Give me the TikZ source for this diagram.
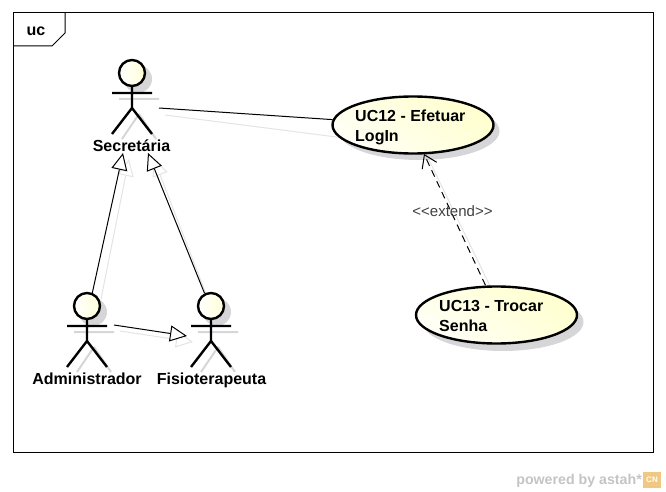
\documentclass[tikz,border=0pt]{standalone}
\usepackage{fontspec}
\setmainfont{Liberation Sans}
\usetikzlibrary{arrows.meta,shapes.geometric,shadings}

\definecolor{shadowgray}{RGB}{214,214,216}
\definecolor{linkshadow}{RGB}{228,228,228}
\definecolor{ucyellow}{RGB}{255,255,200}
\definecolor{markgray}{RGB}{196,196,196}
\definecolor{markorange}{RGB}{240,200,130}

\tikzset{
    actorfig/.pic = {
        \draw[shadowgray, line width=2pt] (7,0) -- (7,20) (-13,26) -- (27,26) (7,41) -- (-10,66) (7,41) -- (24,66);
        \fill[shadowgray] (6,6) circle (14);
        \draw[line width=2.4pt] (0,13) -- (0,35) (-20,20) -- (20,20) (0,35) -- (-20,61) (0,35) -- (20,61);
        \node[shape=circle, draw, line width=2.4pt, minimum size=26pt, inner sep=0pt, left color=white, right color=ucyellow!70] (-head) at (0,0) {};
    },
    actorlabel/.style = {font=\fontsize{16}{18}\selectfont\bfseries, inner sep=0pt, anchor=base},
    usecase/.style = {shape=ellipse, draw, line width=2.4pt, minimum width=161pt, minimum height=57pt, inner sep=0pt, lower left=white, upper right=ucyellow, lower right=ucyellow!70, upper left=ucyellow!40},
    usetext/.style = {inner sep=0pt, anchor=west, align=left, font=\fontsize{16}{20}\selectfont\bfseries},
    useshadow/.style = {shape=ellipse, fill=shadowgray, minimum width=161pt, minimum height=58pt, inner sep=0pt},
    genlink/.style = {line width=1pt, -{Triangle[open, length=17pt, width=16pt, fill=white]}},
    genshadow/.style = {line width=1pt, linkshadow, -{Triangle[open, length=17pt, width=16pt, fill=white]}},
}

\begin{document}
\begin{tikzpicture}[x=1pt, y=-1pt]
    \useasboundingbox (0, 0) rectangle (666, 492);

    \node[draw, line width=1pt, minimum width=640pt, minimum height=439pt, inner sep=0pt] (frame) at (333, 232.5) {};
    \coordinate (tabtop) at (65, 13);
    \coordinate (tabright) at (65, 33);
    \coordinate (tabcut) at (52, 46);
    \coordinate (tableft) at (13, 46);
    \draw[line width=1pt] (tabtop) -- (tabright) -- (tabcut) -- (tableft);
    \node[font=\fontsize{16}{18}\selectfont\bfseries, inner sep=0pt] (uc) at (36, 31) {uc};

    \coordinate (secarm) at (159, 108);
    \coordinate (sectipa) at (123, 153);
    \coordinate (sectipb) at (148, 153);
    \coordinate (admarm) at (114, 325);
    \coordinate (fistip) at (187, 336);

    \node[useshadow] (uc12shadow) at (419, 131) {};
    \node[useshadow] (uc13shadow) at (503, 322) {};

    \draw[linkshadow, line width=1pt] ([shift={(6,7)}]secarm) -- ([shift={(6,7)}]uc12shadow.west);
    \draw[genshadow] ([shift={(6,6)}]95, 293) -- ([shift={(6,6)}]sectipa);
    \draw[genshadow] ([shift={(6,6)}]202, 293) -- ([shift={(6,6)}]sectipb);
    \draw[genshadow] ([shift={(6,6)}]admarm) -- ([shift={(6,6)}]fistip);
    \draw[linkshadow, line width=1pt] (490, 286) -- (429, 160);

    \pic (sec) at (132, 73) {actorfig};
    \pic (adm) at (87, 306) {actorfig};
    \pic (fis) at (211, 306) {actorfig};

    \node[actorlabel] (seclabel) at (131.5, 151) {Secretária};
    \node[actorlabel] (admlabel) at (87, 384) {Administrador};
    \node[actorlabel] (fislabel) at (211.5, 384) {Fisioterapeuta};

    \node[usecase] (uc12) at (413, 125) {};
    \node[usecase] (uc13) at (496.5, 315) {};
    \node[usetext] (uc12text) at (355, 127) {UC12 - Efetuar\\LogIn};
    \node[usetext] (uc13text) at (439, 316) {UC13 - Trocar\\Senha};

    \draw[line width=1pt] (secarm) -- (uc12);
    \draw[genlink] (adm-head.68) -- (sectipa);
    \draw[genlink] (fis-head.117) -- (sectipb);
    \draw[genlink] (admarm) -- (fistip);
    \draw[line width=1pt, dashed, dash pattern=on 7pt off 5pt, -{Straight Barb[length=12pt, width=16pt]}] (uc13.north) ++(-11, 0) -- (424, 154);

    \node[font=\fontsize{15}{16}\selectfont, text=black!75, inner sep=0pt] (extend) at (452.5, 211) {<{}<extend>{}>};

    \node[font=\fontsize{14.2}{16}\selectfont\bfseries, text=markgray, inner sep=0pt, anchor=base east] (powered) at (642, 484) {powered by astah*};
    \node[fill=markorange, minimum width=18pt, minimum height=16pt, inner sep=0pt, font=\fontsize{8}{8}\selectfont\bfseries, text=white] (cnmark) at (652, 480) {CN};
\end{tikzpicture}
\end{document}
